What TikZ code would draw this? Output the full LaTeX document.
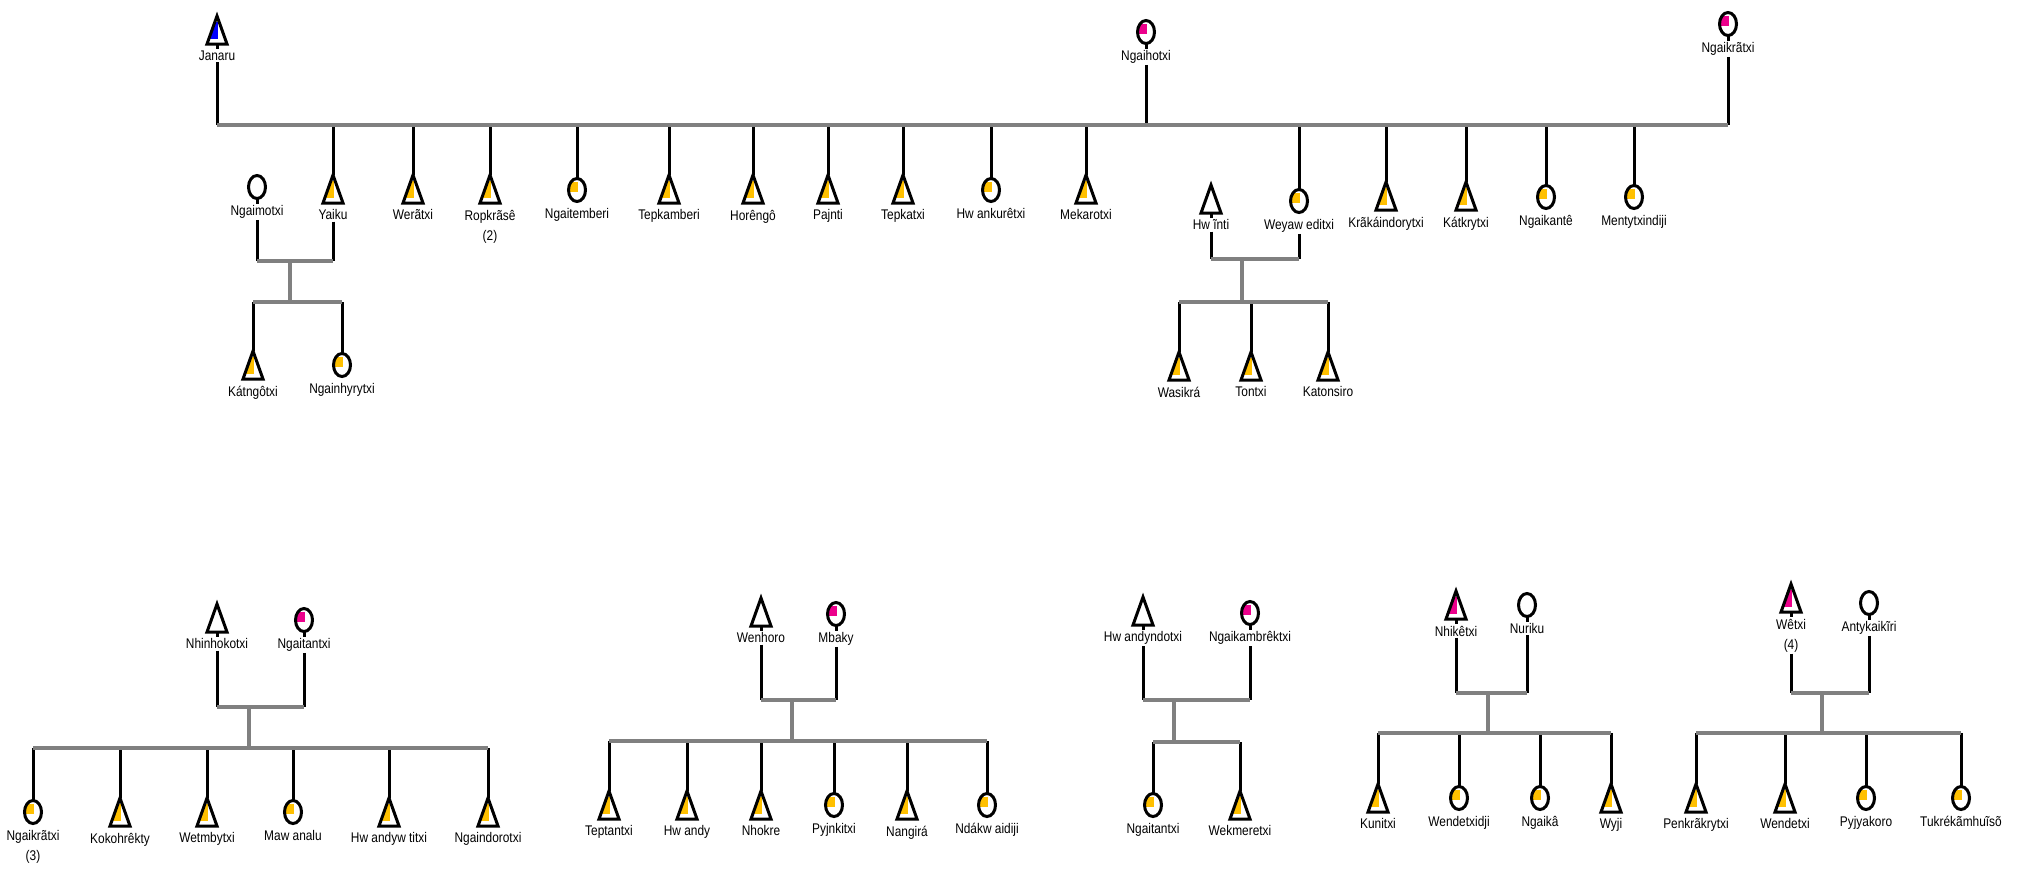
\documentclass[tikz,border=0pt]{standalone}
\usepackage{fontspec}
\setmainfont{Liberation Sans}[FakeStretch=0.85]
\usetikzlibrary{positioning}
\definecolor{amber}{HTML}{FFC000}
\definecolor{bargray}{HTML}{808080}

\tikzset{
	stem/.style={line width=1.5pt},
	bar/.style={line width=2pt, bargray},
	sym/.style={line width=1.5pt},
	tribox/.style={inner sep=0pt, outer sep=0pt, minimum width=10pt, minimum height=14pt},
	ovalbox/.style={inner sep=0pt, outer sep=0pt, minimum width=8.5pt, minimum height=11.5pt},
	tag/.style={fill=white, inner sep=0.6pt, align=center, font=\fontsize{7}{10}\selectfont},
}
% \man[colour]{id}{x,y}{label} -- triangle with coloured part
\newcommand\man[4][white]{
	\node[tribox] (#2) at (#3) {};
	\begin{scope}
		\clip (#2.north) -- (#2.south east) -- (#2.south west) -- cycle;
		\fill[#1] ([yshift=-3pt]#2.north west) rectangle ([xshift=0.4pt, yshift=-11.5pt]#2.north);
	\end{scope}
	\draw[sym] (#2.north) -- (#2.south east) -- (#2.south west) -- cycle;
	\node[tag, below=2.6pt of #2] (#2-t) {#4};
}
% \woman[colour]{id}{x,y}{label} -- oval with coloured quarter
\newcommand\woman[4][white]{
	\node[ovalbox] (#2) at (#3) {};
	\begin{scope}
		\clip (#2.center) ellipse (4.25pt and 5.75pt);
		\fill[#1] ([yshift=-1pt]#2.west) rectangle ([xshift=0.5pt, yshift=4.2pt]#2.center);
	\end{scope}
	\draw[sym] (#2.center) ellipse (4.25pt and 5.75pt);
	\node[tag, below=2.6pt of #2] (#2-t) {#4};
}

\begin{document}
\begin{tikzpicture}[x=0.5pt, y=-0.5pt]
		\useasboundingbox (0,0) rectangle (2022,874);
		%%%%% FIRST GENERATION %%%%%
		\man[blue]{janaru}{217,30}{Janaru}
		\woman[magenta]{ngaihotxi}{1146,32}{Ngaihotxi}
		\woman[magenta]{ngaikratxi}{1728,24}{Ngaikrãtxi}
		\coordinate (top) at (0,125);
		
		\man[amber]{yaiku}{333,189}{Yaiku}
		\man[amber]{weratxi}{413,189}{Werãtxi}
		\man[amber]{ropkrase}{490,189}{Ropkrãsê\\(2)}
		\woman[amber]{ngaitemberi}{577,190}{Ngaitemberi}
		\man[amber]{tepkamberi}{669,189}{Tepkamberi}
		\man[amber]{horengo}{753,189}{Horêngô}
		\man[amber]{pajnti}{828,189}{Pajnti}
		\man[amber]{tepkatxi}{903,189}{Tepkatxi}
		\woman[amber]{hwankuretxi}{991,190}{Hw ankurêtxi}
		\man[amber]{mekarotxi}{1086,189}{Mekarotxi}
		\woman[amber]{weyaweditxi}{1299,201}{Weyaw editxi}
		\man[amber]{krakaindorytxi}{1386,196}{Krãkáindorytxi}
		\man[amber]{katkrytxi}{1466,196}{Kátkrytxi}
		\woman[amber]{ngaikante}{1546,197}{Ngaikantê}
		\woman[amber]{mentytxindiji}{1634,197}{Mentytxindiji}
		
		\foreach \p in {janaru,ngaihotxi,ngaikratxi} {
			\draw[stem] (\p) -- (\p-t);
			\draw[stem] (\p-t) -- (\p |- top);
		}
		\foreach \k in {yaiku,weratxi,ropkrase,ngaitemberi,tepkamberi,horengo,pajnti,tepkatxi,hwankuretxi,mekarotxi,weyaweditxi,krakaindorytxi,katkrytxi,ngaikante,mentytxindiji}
			\draw[stem] (\k |- top) -- (\k);
		\draw[bar] (janaru |- top) -- (ngaikratxi |- top);
		
		% Yaiku and Ngaimotxi
		\woman{ngaimotxi}{257,187}{Ngaimotxi}
		\man[amber]{katngotxi}{253,365}{Kátngôtxi}
		\woman[amber]{ngainhyrytxi}{342,365}{Ngainhyrytxi}
		\coordinate (yk-c) at (290,261);
		\coordinate (yk-s) at (290,302);
		\draw[stem] (ngaimotxi) -- (ngaimotxi-t);
		\foreach \p in {ngaimotxi,yaiku}
			\draw[stem] (\p-t) -- (\p |- yk-c);
		\foreach \k in {katngotxi,ngainhyrytxi}
			\draw[stem] (\k |- yk-s) -- (\k);
		\draw[bar] (ngaimotxi |- yk-c) -- (yaiku |- yk-c);
		\draw[bar] (yk-c) -- (yk-s);
		\draw[bar] (katngotxi |- yk-s) -- (ngainhyrytxi |- yk-s);
		
		% Hwinti and Weyaweditxi
		\man{hwinti}{1211,199}{Hw ĩnti}
		\man[amber]{wasikra}{1179,366}{Wasikrá}
		\man[amber]{tontxi}{1251,366}{Tontxi}
		\man[amber]{katonsiro}{1328,366}{Katonsiro}
		\coordinate (hw-c) at (1242,259);
		\coordinate (hw-s) at (1242,302);
		\draw[stem] (hwinti) -- (hwinti-t);
		\foreach \p in {hwinti,weyaweditxi}
			\draw[stem] (\p-t) -- (\p |- hw-c);
		\foreach \k in {wasikra,tontxi,katonsiro}
			\draw[stem] (\k |- hw-s) -- (\k);
		\draw[bar] (hwinti |- hw-c) -- (weyaweditxi |- hw-c);
		\draw[bar] (hw-c) -- (hw-s);
		\draw[bar] (wasikra |- hw-s) -- (katonsiro |- hw-s);
		
		%%%%% FAMILIES BELOW %%%%%
		% Nhinhokotxi and Ngaitantxi
		\man{nhinhokotxi}{217,618}{Nhinhokotxi}
		\woman[magenta]{ngaitantxi}{304,620}{Ngaitantxi}
		\woman[amber]{ngaikratxib}{33,812}{Ngaikrãtxi\\(3)}
		\man[amber]{kokohrekty}{120,812}{Kokohrêkty}
		\man[amber]{wetmbytxi}{207,812}{Wetmbytxi}
		\woman[amber]{mawanalu}{293,812}{Maw analu}
		\man[amber]{hwandywtitxi}{389,812}{Hw andyw titxi}
		\man[amber]{ngaindorotxi}{488,812}{Ngaindorotxi}
		\coordinate (nh-c) at (249,707);
		\coordinate (nh-s) at (249,748);
		\foreach \p in {nhinhokotxi,ngaitantxi} {
			\draw[stem] (\p) -- (\p-t);
			\draw[stem] (\p-t) -- (\p |- nh-c);
		}
		\foreach \k in {ngaikratxib,kokohrekty,wetmbytxi,mawanalu,hwandywtitxi,ngaindorotxi}
			\draw[stem] (\k |- nh-s) -- (\k);
		\draw[bar] (nhinhokotxi |- nh-c) -- (ngaitantxi |- nh-c);
		\draw[bar] (nh-c) -- (nh-s);
		\draw[bar] (ngaikratxib |- nh-s) -- (ngaindorotxi |- nh-s);
		
		% Wenhoro and Mbaky
		\man{wenhoro}{761,612}{Wenhoro}
		\woman[magenta]{mbaky}{836,614}{Mbaky}
		\man[amber]{teptantxi}{609,805}{Teptantxi}
		\man[amber]{hwandy}{687,805}{Hw andy}
		\man[amber]{nhokre}{761,805}{Nhokre}
		\woman[amber]{pyjnkitxi}{834,805}{Pyjnkitxi}
		\man[amber]{nangira}{907,805}{Nangirá}
		\woman[amber]{ndakwaidiji}{987,805}{Ndákw aidiji}
		\coordinate (wh-c) at (792,700);
		\coordinate (wh-s) at (792,741);
		\foreach \p in {wenhoro,mbaky} {
			\draw[stem] (\p) -- (\p-t);
			\draw[stem] (\p-t) -- (\p |- wh-c);
		}
		\foreach \k in {teptantxi,hwandy,nhokre,pyjnkitxi,nangira,ndakwaidiji}
			\draw[stem] (\k |- wh-s) -- (\k);
		\draw[bar] (wenhoro |- wh-c) -- (mbaky |- wh-c);
		\draw[bar] (wh-c) -- (wh-s);
		\draw[bar] (teptantxi |- wh-s) -- (ndakwaidiji |- wh-s);
		
		% Hwandyndotxi and Ngaikambrektxi
		\man{hwandyndotxi}{1143,611}{Hw andyndotxi}
		\woman[magenta]{ngaikambrektxi}{1250,613}{Ngaikambrêktxi}
		\woman[amber]{ngaitantxib}{1153,805}{Ngaitantxi}
		\man[amber]{wekmeretxi}{1240,805}{Wekmeretxi}
		\coordinate (hd-c) at (1174,700);
		\coordinate (hd-s) at (1174,742);
		\foreach \p in {hwandyndotxi,ngaikambrektxi} {
			\draw[stem] (\p) -- (\p-t);
			\draw[stem] (\p-t) -- (\p |- hd-c);
		}
		\foreach \k in {ngaitantxib,wekmeretxi}
			\draw[stem] (\k |- hd-s) -- (\k);
		\draw[bar] (hwandyndotxi |- hd-c) -- (ngaikambrektxi |- hd-c);
		\draw[bar] (hd-c) -- (hd-s);
		\draw[bar] (ngaitantxib |- hd-s) -- (wekmeretxi |- hd-s);
		
		% Nhiketxi and Nuriku
		\man[magenta]{nhiketxi}{1456,605}{Nhikêtxi}
		\woman{nuriku}{1527,605}{Nuriku}
		\man[amber]{kunitxi}{1378,798}{Kunitxi}
		\woman[amber]{wendetxidji}{1459,798}{Wendetxidji}
		\woman[amber]{ngaika}{1540,798}{Ngaikâ}
		\man[amber]{wyji}{1611,798}{Wyji}
		\coordinate (nk-c) at (1488,693);
		\coordinate (nk-s) at (1488,733);
		\foreach \p in {nhiketxi,nuriku} {
			\draw[stem] (\p) -- (\p-t);
			\draw[stem] (\p-t) -- (\p |- nk-c);
		}
		\foreach \k in {kunitxi,wendetxidji,ngaika,wyji}
			\draw[stem] (\k |- nk-s) -- (\k);
		\draw[bar] (nhiketxi |- nk-c) -- (nuriku |- nk-c);
		\draw[bar] (nk-c) -- (nk-s);
		\draw[bar] (kunitxi |- nk-s) -- (wyji |- nk-s);
		
		% Wetxi and Antykaikiri
		\man[magenta]{wetxi}{1791,598}{Wêtxi\\(4)}
		\woman{antykaikiri}{1869,603}{Antykaikĩri}
		\man[amber]{penkrakrytxi}{1696,798}{Penkrãkrytxi}
		\man[amber]{wendetxi}{1785,798}{Wendetxi}
		\woman[amber]{pyjyakoro}{1866,798}{Pyjyakoro}
		\woman[amber]{tukrekamhuiso}{1961,798}{Tukrékãmhuĩsõ}
		\coordinate (wt-c) at (1822,693);
		\coordinate (wt-s) at (1822,733);
		\foreach \p in {wetxi,antykaikiri} {
			\draw[stem] (\p) -- (\p-t);
			\draw[stem] (\p-t) -- (\p |- wt-c);
		}
		\foreach \k in {penkrakrytxi,wendetxi,pyjyakoro,tukrekamhuiso}
			\draw[stem] (\k |- wt-s) -- (\k);
		\draw[bar] (wetxi |- wt-c) -- (antykaikiri |- wt-c);
		\draw[bar] (wt-c) -- (wt-s);
		\draw[bar] (penkrakrytxi |- wt-s) -- (tukrekamhuiso |- wt-s);
\end{tikzpicture}
\end{document}
